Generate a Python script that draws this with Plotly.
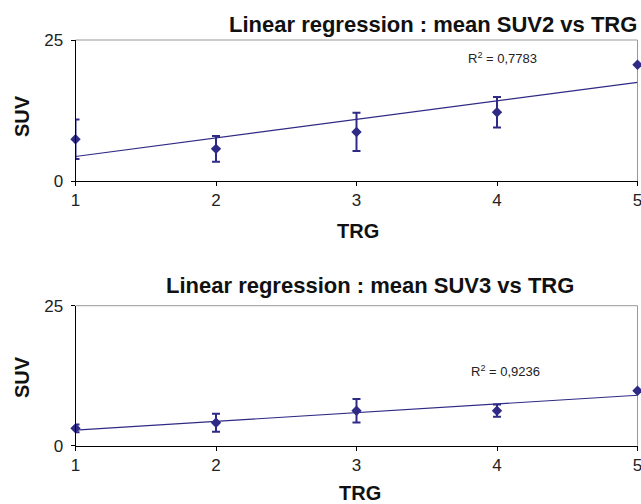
import numpy as np
import plotly.graph_objects as go

# ---- data ----
trg = [1, 2, 3, 4, 5]
suv2_mean = [7.4, 5.7, 8.7, 12.2, 20.6]
suv2_err = [3.5, 2.3, 3.4, 2.7, 0]
suv3_mean = [3.1, 4.1, 6.25, 6.25, 9.8]
suv3_err = [0.7, 1.6, 2.1, 1.1, 0]
r2_top = "R<sup>2</sup> = 0,7783"
r2_bottom = "R<sup>2</sup> = 0,9236"
title_top = "Linear regression : mean SUV2 vs TRG"
title_bottom = "Linear regression : mean SUV3 vs TRG"

W, H = 641, 504
NAVY = "#2E2A85"
FONT = "Liberation Sans, Arial, sans-serif"

def px_x(p):
    return p / W

def px_y(p):
    return 1 - p / H

fig = go.Figure()

def add_panel(means, errs, xa, ya):
    fit = np.polyfit(trg, means, 1)
    xl = np.array([trg[0], trg[-1]])
    fig.add_trace(go.Scatter(x=xl, y=np.polyval(fit, xl), mode="lines",
                             line=dict(color=NAVY, width=1.2),
                             xaxis=xa, yaxis=ya, showlegend=False, hoverinfo="skip"))
    fig.add_trace(go.Scatter(x=trg, y=means, mode="markers",
                             marker=dict(symbol="diamond", size=8, color=NAVY),
                             error_y=dict(type="data", array=errs, visible=True,
                                          color=NAVY, thickness=2, width=4),
                             cliponaxis=False,
                             xaxis=xa, yaxis=ya, showlegend=False))

add_panel(suv2_mean, suv2_err, "x", "y")
add_panel(suv3_mean, suv3_err, "x2", "y2")

xdom = [px_x(75.5), px_x(637.5)]
top_dom = [px_y(181), px_y(40)]
bot_dom = [px_y(445.7), px_y(305.7)]

axis_common = dict(showgrid=False, zeroline=False, showline=True, linecolor="black",
                   linewidth=1, ticks="outside", ticklen=4, tickcolor="black",
                   automargin=False, ticklabeloverflow="allow",
                   tickfont=dict(family=FONT, size=17, color="#222"))

fig.update_layout(
    width=W, height=H, margin=dict(l=0, r=0, t=0, b=0),
    paper_bgcolor="white", plot_bgcolor="white",
    xaxis=dict(domain=xdom, anchor="y", range=[1, 5], tickvals=trg, **axis_common),
    yaxis=dict(domain=top_dom, anchor="x", range=[0, 25], tickvals=[0, 25],
               ticklabelstandoff=4, **axis_common),
    xaxis2=dict(domain=xdom, anchor="y2", range=[1, 5], tickvals=trg, **axis_common),
    yaxis2=dict(domain=bot_dom, anchor="x2", range=[0, 25], tickvals=[0, 25],
                ticklabelstandoff=4, **axis_common),
)

# gray top/right border
for xr, yr in [("x domain", "y domain"), ("x2 domain", "y2 domain")]:
    fig.add_shape(type="line", xref=xr, yref=yr, x0=0, x1=1, y0=1, y1=1,
                  line=dict(color="#999", width=1), layer="below")
    fig.add_shape(type="line", xref=xr, yref=yr, x0=1, x1=1, y0=0, y1=1,
                  line=dict(color="#999", width=1), layer="below")

title_font = dict(family=FONT, size=22, color="#111")
axt_font = dict(family=FONT, size=20, color="#111")
r2_font = dict(family=FONT, size=13, color="#222")
ann = [
    dict(text="<b>" + title_top + "</b>", x=px_x(433), y=px_y(24), font=title_font),
    dict(text="<b>" + title_bottom + "</b>", x=px_x(370), y=px_y(285), font=title_font),
    dict(text="<b>SUV</b>", x=px_x(22), y=px_y(116), font=axt_font, textangle=-90),
    dict(text="<b>SUV</b>", x=px_x(22), y=px_y(377), font=axt_font, textangle=-90),
    dict(text="<b>TRG</b>", x=px_x(358), y=px_y(231), font=axt_font),
    dict(text="<b>TRG</b>", x=px_x(360), y=px_y(493), font=axt_font),
    dict(text=r2_top, x=px_x(502), y=px_y(58), font=r2_font),
    dict(text=r2_bottom, x=px_x(505), y=px_y(371), font=r2_font),
]
for a in ann:
    fig.add_annotation(xref="paper", yref="paper", showarrow=False,
                       xanchor="center", yanchor="middle", **a)

fig.write_html("out.html", config={"displayModeBar": False},
               post_script="document.body.style.margin='0px';document.body.style.overflow='hidden';")
